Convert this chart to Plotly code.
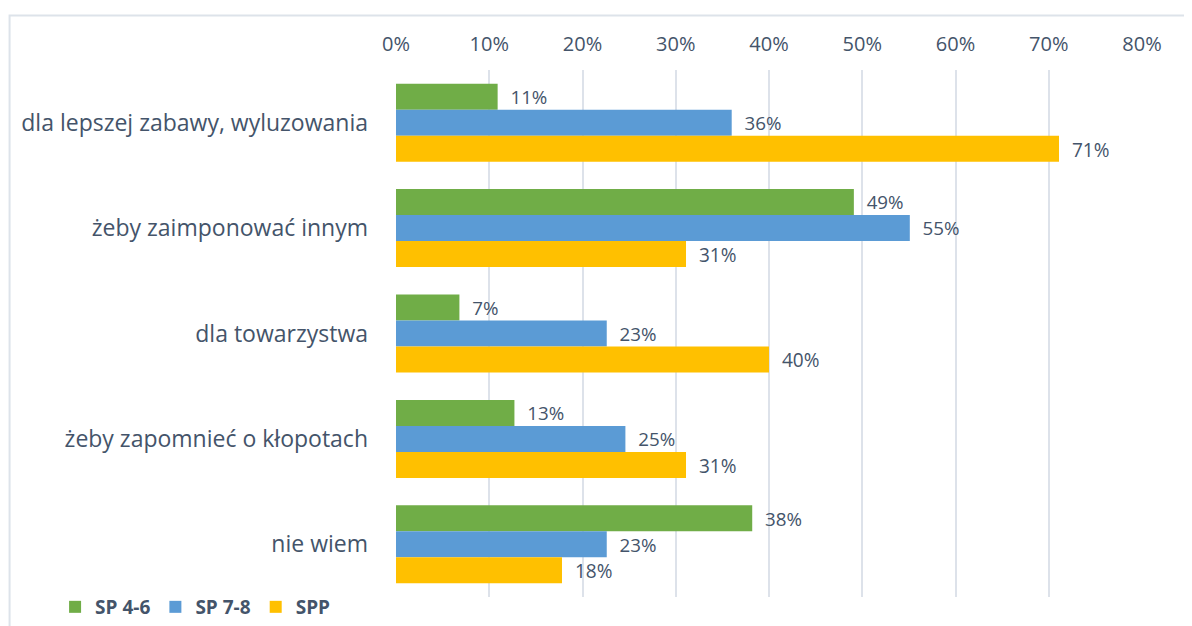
import plotly.graph_objects as go

categories = [
    "dla lepszej zabawy, wyluzowania",
    "żeby zaimponować innym",
    "dla towarzystwa",
    "żeby zapomnieć o kłopotach",
    "nie wiem",
]
sp_4_6 = [10.9, 49.1, 6.8, 12.7, 38.2]
sp_7_8 = [36.0, 55.1, 22.6, 24.6, 22.6]
spp = [71.1, 31.1, 40.0, 31.1, 17.8]

tick_vals = [0, 10, 20, 30, 40, 50, 60, 70, 80]
tick_text = ["0%", "10%", "20%", "30%", "40%", "50%", "60%", "70%", "80%"]

TXT = "#44546a"
FONT = "Open Sans"
pad = "\u00a0\u00a0"

fig = go.Figure()
series = [
    ("SP 4-6", sp_4_6, "#70ad47", 19.5),
    ("SP 7-8", sp_7_8, "#5b9bd5", 19.5),
    ("SPP", spp, "#ffc000", 22),
]
for name, vals, col, fs in series:
    fig.add_trace(go.Bar(
        y=categories, x=vals, name=name, orientation="h",
        marker=dict(color=col, line=dict(width=0)),
        text=[f"{pad}{round(v):d}%" for v in vals],
        textposition="outside", cliponaxis=False,
        textfont=dict(size=fs, color=TXT, family=FONT),
    ))

# the page body has an 8px margin, so the figure is 8px smaller than the window
fig.update_layout(
    width=1184, height=618,
    margin=dict(l=388, r=50, t=62, b=29, autoexpand=False),
    paper_bgcolor="white", plot_bgcolor="white",
    barmode="group", bargap=0.26, bargroupgap=0,
    font=dict(family=FONT, color=TXT, size=20),
    xaxis=dict(range=[0, 80], side="top", tickvals=tick_vals, ticktext=tick_text,
               showgrid=True, gridcolor="#dde2ea", gridwidth=2, zeroline=False,
               showline=False, ticks="", automargin=False, ticklabelstandoff=14,
               tickfont=dict(size=20, color=TXT)),
    yaxis=dict(autorange="reversed", showgrid=False, ticks="", showline=False,
               automargin=False, ticklabelstandoff=27,
               tickfont=dict(size=23, color=TXT)),
    legend=dict(orientation="h", x=-0.457, y=-0.055, xanchor="left", yanchor="bottom",
                font=dict(size=19, color=TXT, family=FONT, weight="bold"),
                traceorder="normal", itemwidth=30),
    showlegend=True,
    shapes=[dict(type="rect", xref="paper", yref="paper",
                 x0=-0.518, x1=1.3, y0=-0.3, y1=1.1034,
                 line=dict(color="#dde3ea", width=2), layer="below")],
)

fig.write_html("out.html")
